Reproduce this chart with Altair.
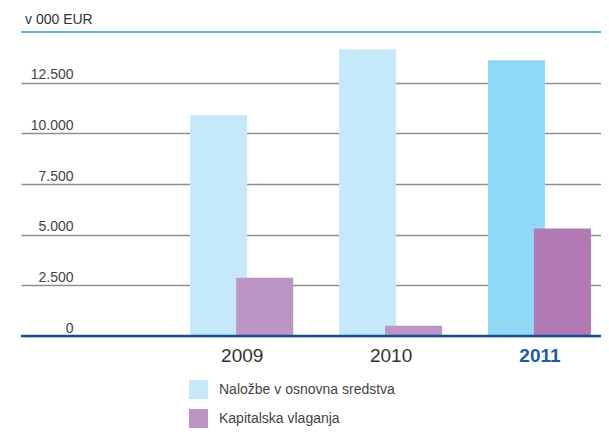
import altair as alt
import pandas as pd

years = [2009, 2010, 2011]
series = ["Naložbe v osnovna sredstva", "Kapitalska vlaganja"]
nalozbe = [10900, 14150, 13600]
kapitalska = [2870, 500, 5300]
y_ticks = [0, 2500, 5000, 7500, 10000, 12500]

df = pd.DataFrame(
    {"year": years * 2,
     "series": [series[0]] * 3 + [series[1]] * 3,
     "value": nalozbe + kapitalska}
)

FONT = "Liberation Sans"
color_scale = alt.Scale(domain=series, range=["#c6e9f9", "#bd95c5"])

x_enc = alt.X(
    "year:Q",
    scale=alt.Scale(domain=[2007.551, 2011.380], nice=False, zero=False),
    axis=alt.Axis(
        values=years, format="d", title=None, grid=False, ticks=False, domain=False,
        labelFontSize=19, labelFont=FONT, labelPadding=10,
        labelColor=alt.ExprRef("datum.value == 2011 ? '#1b5ca8' : '#333333'"),
        labelFontWeight=alt.ExprRef("datum.value == 2011 ? 'bold' : 'normal'"),
    ),
)
y_enc = alt.Y(
    "value:Q",
    scale=alt.Scale(domain=[0, 15000], nice=False),
    axis=alt.Axis(
        values=y_ticks, title=None, ticks=False, domain=False,
        grid=True, gridColor="#8f8f8f", gridWidth=1.5,
        labelFontSize=14, labelFont=FONT, labelColor="#444444",
        labelAlign="right", labelBaseline="alphabetic",
        labelPadding=-52, labelOffset=-4,
        labelExpr="replace(format(datum.value, ',d'), ',', '.')",
    ),
)

legend = alt.Legend(
    title=None, orient="none", legendX=168, legendY=348, direction="vertical",
    symbolType="square", symbolSize=361, symbolStrokeWidth=0,
    labelFontSize=14, labelFont=FONT, labelColor="#444444", labelLimit=0,
    rowPadding=10, labelOffset=11,
)

base = alt.Chart(df)

blue = base.transform_filter(alt.datum.series == series[0]).mark_bar(
    width=57, xOffset=-23
).encode(
    x=x_enc, y=y_enc,
    color=alt.condition(
        "datum.year == 2011", alt.value("#8fd8f6"),
        alt.Color("series:N", scale=color_scale, legend=legend, sort=series),
    ),
)
purple = base.transform_filter(alt.datum.series == series[1]).mark_bar(
    width=57, xOffset=23
).encode(
    x=x_enc, y=y_enc,
    color=alt.condition(
        "datum.year == 2011", alt.value("#b27ab5"),
        alt.Color("series:N", scale=color_scale, legend=legend, sort=series),
    ),
)

top_rule = alt.Chart(pd.DataFrame({"v": [15000]})).mark_rule(
    color="#2a9dd8", strokeWidth=1.5
).encode(y=alt.Y("v:Q", scale=alt.Scale(domain=[0, 15000], nice=False)))
zero_rule = alt.Chart(pd.DataFrame({"v": [0]})).mark_rule(
    color="#174f93", strokeWidth=2.5
).encode(y=alt.Y("v:Q", scale=alt.Scale(domain=[0, 15000], nice=False)))

chart = alt.layer(blue, purple, top_rule, zero_rule).properties(
    width=580, height=304,
    autosize=alt.AutoSizeParams(type="none"),
    padding={"left": 13, "top": 24, "right": 0, "bottom": 92},
    title=alt.Title(
        "v 000 EUR", anchor="start", frame="group", offset=4, dx=4,
        fontSize=14, font=FONT, fontWeight="normal", color="#333333",
    ),
).configure_view(stroke=None)

chart.save("out.html", embed_options={"renderer": "svg", "actions": False})
